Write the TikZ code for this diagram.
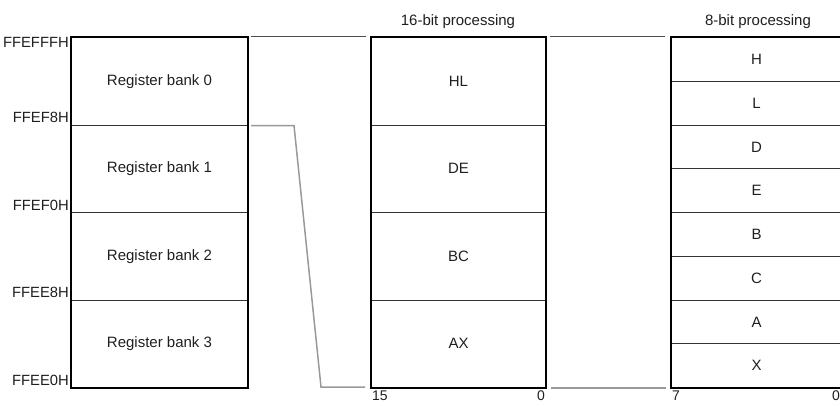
\documentclass[tikz,border=0pt]{standalone}
\usepackage{fontspec}
\setmainfont{Liberation Sans}
\usetikzlibrary{calc}
\begin{document}
\begin{tikzpicture}[x=1pt,y=-1pt,
  txt/.style={font=\fontsize{15}{17}\selectfont,text=black!88},
  cell/.style={txt,draw=black!80,line width=1pt,inner sep=0pt,anchor=north west,minimum height=87.5pt},
  bank/.style={cell,minimum width=176pt},
  wide/.style={cell,minimum width=174pt},
  byte/.style={cell,minimum width=170pt,minimum height=43.75pt},
  outer/.style={draw=black,line width=2pt},
  addr/.style={font=\fontsize{14.8}{17}\selectfont,text=black!88,inner sep=0pt},
  title/.style={txt,inner sep=0pt,anchor=base},
  bit/.style={font=\fontsize{14}{16}\selectfont,text=black!88,inner sep=0pt},
  conn/.style={draw=black!70,line width=1pt},
  gconn/.style={draw=black!40,line width=1.5pt}]
\useasboundingbox (0,0) rectangle (840,405);
\clip (0,0) rectangle (840,405);
% register banks
\node[bank] (b0) at (71,37) {Register bank 0};
\node[bank] (b1) at (71,124.5) {Register bank 1};
\node[bank] (b2) at (71,212) {Register bank 2};
\node[bank] (b3) at (71,299.5) {Register bank 3};
\draw[outer] (b0.north west) rectangle (b3.south east);
% addresses
\node[addr,anchor=north east] (a0) at ($(b0.north west)+(-2,0)$) {FFEFFFH};
\node[addr,anchor=south east] (a1) at ($(b0.south west)+(-2,-3)$) {FFEF8H};
\node[addr,anchor=south east] (a2) at ($(b1.south west)+(-2,-2)$) {FFEF0H};
\node[addr,anchor=south east] (a3) at ($(b2.south west)+(-2,-3)$) {FFEE8H};
\node[addr,anchor=south east] (a4) at ($(b3.south west)+(-2,-2)$) {FFEE0H};
% 16-bit
\node[wide] (hl) at (371,37) {HL};
\node[wide] (de) at (371,124.5) {DE};
\node[wide] (bc) at (371,212) {BC};
\node[wide] (ax) at (371,299.5) {AX};
\draw[outer] (hl.north west) rectangle (ax.south east);
\node[title] (t16) at (458,25) {16-bit processing};
\node[bit,anchor=north west] (n15) at ($(ax.south west)+(1,3)$) {15};
\node[bit,anchor=north east] (n0a) at ($(ax.south east)+(-1,3)$) {0};
% 8-bit
\node[byte] (h) at (671,37) {H};
\node[byte] (l) at (671,80.75) {L};
\node[byte] (d) at (671,124.5) {D};
\node[byte] (e) at (671,168.25) {E};
\node[byte] (b) at (671,212) {B};
\node[byte] (c) at (671,255.75) {C};
\node[byte] (a) at (671,299.5) {A};
\node[byte] (x) at (671,343.25) {X};
\draw[outer] (h.north west) rectangle (x.south east);
\node[title] (t8) at (758,25) {8-bit processing};
\node[bit,anchor=north west] (n7) at ($(x.south west)+(1,3)$) {7};
\node[bit,anchor=north east] (n0b) at ($(x.south east)+(-2,3)$) {0};
% connectors
\draw[conn] ($(b0.north east)+(3,-1)$) -- ($(hl.north west)+(-5,-1)$);
\draw[conn] ($(hl.north east)+(4,-1)$) -- ($(h.north west)+(-6,-1)$);
\draw[gconn] ($(b0.south east)+(3,0)$) -- ++(43,0) -- ($(ax.south west)+(-50,-1)$) -- ($(ax.south west)+(-6,-1)$);
\draw[gconn] ($(ax.south east)+(5,0)$) -- ($(x.south west)+(-5,0)$);
\end{tikzpicture}
\end{document}
